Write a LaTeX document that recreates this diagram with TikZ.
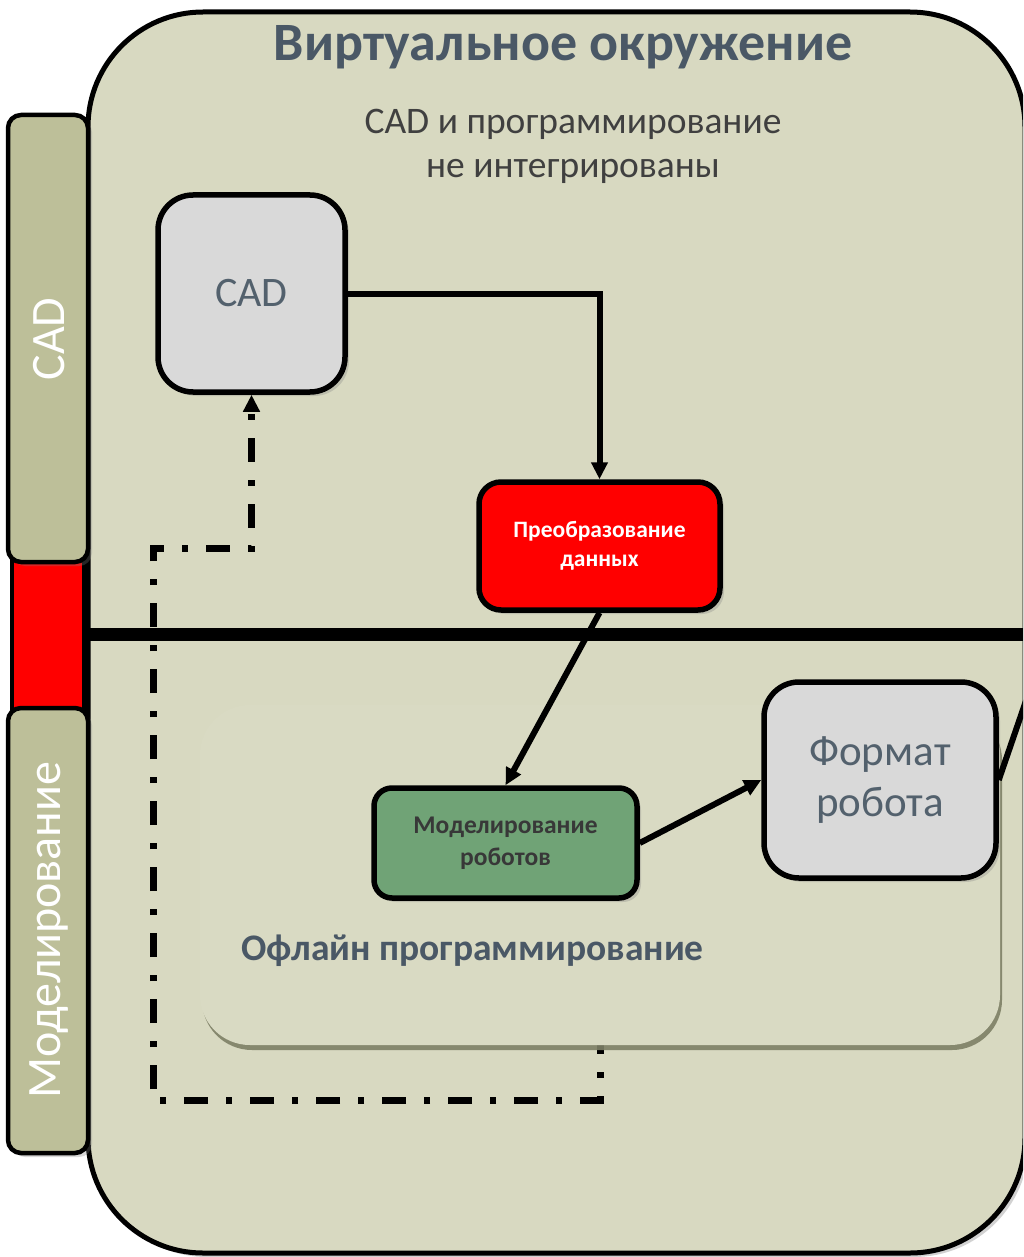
\documentclass[tikz,border=0pt]{standalone}
\usepackage{fontspec}
\setmainfont{Carlito}
\usetikzlibrary{arrows.meta,shadows}
\definecolor{bgc}{HTML}{D8D9C1}
\definecolor{barc}{HTML}{BDBF99}
\definecolor{greyc}{HTML}{D9D9D9}
\definecolor{titlec}{HTML}{4A5866}
\definecolor{subc}{HTML}{404040}
\definecolor{boxtxt}{HTML}{53616D}
\definecolor{greenc}{HTML}{70A376}
\definecolor{offc}{HTML}{D9DAC3}
\definecolor{offsh}{HTML}{7E8066}
\tikzset{
  shad/.style={drop shadow={opacity=0.3,shadow xshift=4pt,shadow yshift=-4pt}},
  greybox/.style={draw=black,line width=5.5pt,fill=greyc,rounded corners=35pt,shad,text=boxtxt,align=center,inner sep=0pt},
  redbox/.style={draw=black,line width=5.5pt,fill=red,rounded corners=22pt,shad,text=white,align=center,inner sep=0pt,font=\bfseries\fontsize{23.5}{29}\selectfont},
  greenbox/.style={draw=black,line width=5.5pt,fill=greenc,rounded corners=18pt,shad,text=black!78,align=center,inner sep=0pt,font=\bfseries\fontsize{25.5}{32}\selectfont},
  sidebar/.style={draw=black,line width=4.5pt,fill=barc,rounded corners=13pt,shad},
  arr/.style={draw=black,line width=6pt,-{Triangle[length=17pt,width=16pt]}},
  plainline/.style={draw=black,line width=6pt},
  dashdot/.style={draw=black,line width=7pt,dash pattern=on 24pt off 18pt on 6pt off 18pt,-{Triangle[length=17pt,width=16pt]}},
  sidetxt/.style={text=white,rotate=90,font=\fontsize{48}{54}\selectfont}
}
\begin{document}
\begin{tikzpicture}[x=1pt,y=-1pt]
\clip (0,0) rectangle (1023,1257);
\useasboundingbox (0,0) rectangle (1023,1257);
\fill[white] (0,0) rectangle (1023,1257);
% outer environment
\path[draw=black,line width=5pt,fill=bgc,rounded corners=115pt,drop shadow={opacity=0.35,shadow xshift=4pt,shadow yshift=-4pt}] (88,12) rectangle (1025,1253);
% title and subtitle
\node (title) at (563,47) {\textcolor{titlec}{\bfseries\fontsize{54}{60}\selectfont Виртуальное окружение}};
\node[align=center,text=subc,font=\fontsize{37.5}{44}\selectfont] (sub) at (573,146) {CAD и программирование\\не интегрированы};
% horizontal divider
\draw[line width=13pt] (84,634) -- (1023,634);
% CAD box and dash-dot feedback loop (starts behind the offline box)
\node[greybox,minimum width=187pt,minimum height=197pt,font=\fontsize{42}{50}\selectfont] (cad) at (251.5,293.5) {CAD};
\coordinate (ds) at (600,1030);
\coordinate (d1) at (600,1100);
\coordinate (d2) at (153,1100);
\coordinate (d3) at (153,548);
\coordinate (d4) at (251.5,548);
\draw[dashdot] (ds) -- (d1) -- (d2) -- (d3) -- (d4) -- (cad.south);
% offline programming area
\path[fill=offc,rounded corners=50pt,drop shadow={color=offsh,opacity=0.9,shadow xshift=2pt,shadow yshift=-5pt}] (200,705) rectangle (1000,1045);
\node[anchor=west,text=titlec,font=\bfseries\fontsize{37.5}{44}\selectfont] (offl) at (238,951) {Офлайн программирование};
% boxes
\node[redbox,minimum width=241pt,minimum height=128pt] (conv) at (599.5,546) {Преобразование\\данных};
\node[greenbox,minimum width=263pt,minimum height=110pt] (sim) at (505.5,843) {Моделирование\\роботов};
\node[greybox,minimum width=232pt,minimum height=196pt,font=\fontsize{43}{51}\selectfont] (fmt) at (880,780) {Формат\\робота};
% connectors
\draw[arr] (cad.east) -| (conv.north);
\draw[arr] (conv.south) -- (sim.north);
\draw[arr] (sim.east) -- (fmt.west);
\coordinate (ext) at (1040,660);
\draw[plainline] (fmt.east) -- (ext);
% left side bars
\path[draw=black,line width=4.5pt,fill=red] (12,556) rectangle (84,714);
\path[sidebar] (8,115) rectangle (88,562);
\path[sidebar] (8,708) rectangle (88,1153);
\node[sidetxt] (lcad) at (49,339) {CAD};
\node[sidetxt] (lsim) at (49,930) {Моделирование};
\end{tikzpicture}
\end{document}
